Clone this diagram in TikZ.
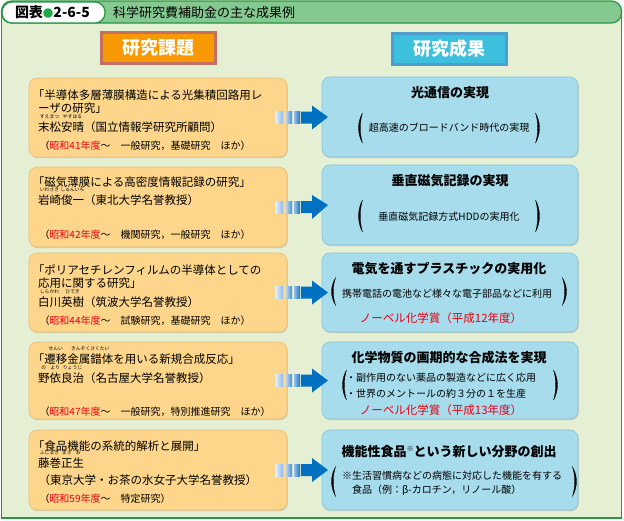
\documentclass[tikz,border=0pt]{standalone}
\usepackage{fontspec}
\setmainfont{Noto Sans CJK JP}
\usetikzlibrary{shadows,calc}
\definecolor{bodybg}{RGB}{229,239,211}
\definecolor{bandgreen}{RGB}{133,201,145}
\definecolor{framegreen}{RGB}{40,150,65}
\definecolor{lfill}{RGB}{253,214,140}
\definecolor{ldraw}{RGB}{238,190,115}
\definecolor{rfill}{RGB}{167,220,236}
\definecolor{rdraw}{RGB}{135,195,218}
\definecolor{horange}{RGB}{247,153,0}
\definecolor{hodraw}{RGB}{196,112,96}
\definecolor{hcyan}{RGB}{60,192,222}
\definecolor{hcdraw}{RGB}{78,158,205}
\definecolor{arrowblue}{RGB}{0,112,192}
\definecolor{jred}{RGB}{230,0,18}
\definecolor{dotgreen}{RGB}{30,170,70}
\definecolor{sa}{RGB}{232,241,250}
\definecolor{sb}{RGB}{140,185,230}
\definecolor{sc}{RGB}{200,221,242}
\definecolor{sd}{RGB}{75,145,212}
\definecolor{se}{RGB}{150,192,234}
\definecolor{sf}{RGB}{25,118,198}
\newsavebox\rbbox
\newcommand\rb[2]{\leavevmode\sbox\rbbox{#1}\rlap{\makebox[\wd\rbbox]{\raisebox{1.08em}[0pt][0pt]{\fontsize{4.8}{5}\selectfont #2}}}\usebox\rbbox}
\newcommand\rd[1]{\textcolor{jred}{#1}}
\newcommand\lpar[3]{\filldraw[parenst] ({#1+4.5},#2) .. controls ({#1-0.8},{#2+0.3*(#3-#2)}) and ({#1-0.8},{#3-0.3*(#3-#2)}) .. ({#1+4.5},#3) .. controls ({#1+1.6},{#3-0.3*(#3-#2)}) and ({#1+1.6},{#2+0.3*(#3-#2)}) .. cycle;}
\newcommand\rpar[3]{\filldraw[parenst] ({#1-4.5},#2) .. controls ({#1+0.8},{#2+0.3*(#3-#2)}) and ({#1+0.8},{#3-0.3*(#3-#2)}) .. ({#1-4.5},#3) .. controls ({#1-1.6},{#3-0.3*(#3-#2)}) and ({#1-1.6},{#2+0.3*(#3-#2)}) .. cycle;}
\newcommand\blockarrow[2]{%
  \begin{scope}[shift={(#1.east)}]
    \shade[left color=sa,right color=sb] (-12,-6) rectangle (-4,6);
    \shade[left color=sc,right color=sd] (-2,-6) rectangle (5,6);
    \shade[left color=se,right color=sf] (7,-6) rectangle (13,6);
  \end{scope}
  \fill[arrowblue] ($(#1.east)+(14,-6)$) -- ($(#1.east)+(25,-6)$) -- ($(#1.east)+(25,-12)$) -- ($(#2.west)+(6,0)$) -- ($(#1.east)+(25,12)$) -- ($(#1.east)+(25,6)$) -- ($(#1.east)+(14,6)$) -- cycle;}
\begin{document}
\begin{tikzpicture}[x=1pt,y=-1pt,
  every node/.style={inner sep=0pt,outer sep=0pt},
  frame/.style={draw=framegreen,line width=1.2pt},
  lboxst/.style={fill=lfill,draw=ldraw,line width=0.6pt,rounded corners=8pt,anchor=north west,minimum width=258pt,
     drop shadow={shadow xshift=0.8pt,shadow yshift=-1.2pt,opacity=0.3}},
  rboxst/.style={fill=rfill,draw=rdraw,line width=0.6pt,rounded corners=8pt,anchor=north west,minimum width=256pt,
     drop shadow={shadow xshift=0.8pt,shadow yshift=-1.2pt,opacity=0.3}},
  lt/.style={anchor=west,font=\fontsize{11.5}{13}\selectfont},
  lb/.style={anchor=west,font=\fontsize{10}{12}\selectfont},
  rt/.style={font=\fontsize{13}{15}\selectfont\bfseries},
  rs/.style={font=\fontsize{10}{12}\selectfont},
  rr/.style={font=\fontsize{11.5}{13}\selectfont,text=jred},
  parenst/.style={fill=black,draw=black,line width=0.3pt},
  hdr/.style={minimum width=114pt,minimum height=31pt,line width=2.2pt,font=\fontsize{18}{20}\selectfont\bfseries,text=white,
     drop shadow={shadow xshift=1pt,shadow yshift=-1pt,opacity=0.25}}]
\useasboundingbox (0,0) rectangle (624,520);
% body and title band
\fill[bodybg] (1.5,12) rectangle (621.5,518);
\draw[frame] (1.5,12) -- (1.5,518) -- (621.5,518) -- (621.5,12);
\draw[frame,fill=bandgreen,rounded corners=10pt] (1.5,1) rectangle (621.5,23);
\node[frame,fill=white,rounded corners=10pt,minimum width=103pt,minimum height=21pt,anchor=north west] (tab) at (2,2) {};
\node[anchor=west,font=\fontsize{14}{16}\selectfont\bfseries] (tabtxt) at (15,12.5) {図表\textcolor{dotgreen}{\fontsize{10.5}{12}\selectfont ●}2-6-5};
\node[anchor=west,font=\fontsize{13}{15}\selectfont] (title) at (113,12.5) {科学研究費補助金の主な成果例};
% headers
\node[hdr,fill=horange,draw=hodraw] (h1) at (158.5,48) {研究課題};
\node[hdr,fill=hcyan,draw=hcdraw] (h2) at (449.5,49) {研究成果};
% left boxes
\node[lboxst,minimum height=79pt] (L1) at (29,78) {};
\node[lboxst,minimum height=80pt] (L2) at (29,167) {};
\node[lboxst,minimum height=79pt] (L3) at (29,253) {};
\node[lboxst,minimum height=77pt] (L4) at (29,342) {};
\node[lboxst,minimum height=80pt] (L5) at (29,430) {};
% right boxes
\node[rboxst,minimum height=80pt] (R1) at (322,77) {};
\node[rboxst,minimum height=80pt] (R2) at (322,165) {};
\node[rboxst,minimum height=79pt] (R3) at (322,253) {};
\node[rboxst,minimum height=77pt] (R4) at (322,342) {};
\node[rboxst,minimum height=80pt] (R5) at (322,430) {};
% arrows
\blockarrow{L1}{R1}
\blockarrow{L2}{R2}
\blockarrow{L3}{R3}
\blockarrow{L4}{R4}
\blockarrow{L5}{R5}
% left texts
\node[lt] (l1a) at (38,95) {\kern-0.45em「半導体多層薄膜構造による光集積回路用レ};
\node[lt] (l1b) at (38,108) {ーザの研究」};
\node[lt] (l1c) at (38,127) {\rb{末松}{すえまつ}\rb{安晴}{やすはる}（国立情報学研究所顧問）};
\node[lb] (l1d) at (45,146) {\kern-0.55em（\rd{昭和41年度}～　一般研究，基礎研究　ほか）};
\node[lt] (l2a) at (38,182) {\kern-0.45em「磁気薄膜による高密度情報記録の研究」};
\node[lt] (l2c) at (38,200) {\rb{岩崎}{いわさき}\rb{俊一}{しゅんいち}（東北大学名誉教授）};
\node[lb] (l2d) at (45,235) {\kern-0.55em（\rd{昭和42年度}～　機関研究，一般研究　ほか）};
\node[lt] (l3a) at (38,270) {\kern-0.45em「ポリアセチレンフィルムの半導体としての};
\node[lt] (l3b) at (38,283) {応用に関する研究」};
\node[lt] (l3c) at (38,302) {\rb{白川}{しらかわ}\rb{英樹}{ひでき}（筑波大学名誉教授）};
\node[lb] (l3d) at (45,321) {\kern-0.55em（\rd{昭和44年度}～　試験研究，基礎研究　ほか）};
\node[lt] (l4a) at (38,359) {\kern-0.45em「\rb{遷移}{せんい}\rb{金属錯体}{きんぞくさくたい}を用いる新規合成反応」};
\node[lt] (l4c) at (38,378) {\rb{野}{の}\rb{依}{より}\rb{良治}{りょうじ}（名古屋大学名誉教授）};
\node[lb] (l4d) at (45,412) {\kern-0.55em（\rd{昭和47年度}～　一般研究，特別推進研究　ほか）};
\node[lt] (l5a) at (38,446) {\kern-0.45em「食品機能の系統的解析と展開」};
\node[lt] (l5c) at (38,463) {\rb{藤巻}{ふじまき}\rb{正}{まさ}\rb{生}{お}};
\node[lt] (l5e) at (45,480) {\kern-0.55em（東京大学・お茶の水女子大学名誉教授）};
\node[lb] (l5d) at (45,499) {\kern-0.55em（\rd{昭和59年度}～　特定研究）};
% right texts
\node[rt] (r1a) at (450,93) {光通信の実現};
\node[rs] (r1b) at (449,128) {超高速のブロードバンド時代の実現};
\lpar{358}{113}{143}\rpar{540}{113}{143}
\node[rt] (r2a) at (450,181) {垂直磁気記録の実現};
\node[rs] (r2b) at (449,217) {垂直磁気記録方式HDDの実用化};
\lpar{358}{200}{232}\rpar{540}{200}{232}
\node[rt] (r3a) at (449,269) {電気を通すプラスチックの実用化};
\node[rs] (r3b) at (447,294) {携帯電話の電池など様々な電子部品などに利用};
\node[rr] (r3c) at (441,318) {ノーベル化学賞（平成12年度）};
\lpar{331}{278}{305}\rpar{567}{278}{305}
\node[rt] (r4a) at (449,358) {化学物質の画期的な合成法を実現};
\node[rs,anchor=west] (r4b) at (346,378) {・副作用のない薬品の製造などに広く応用};
\node[rs,anchor=west] (r4c) at (346,394) {・世界のメントールの約３分の１を生産};
\node[rr] (r4d) at (441,410) {ノーベル化学賞（平成13年度）};
\lpar{342}{370}{400}\rpar{558}{370}{400}
\node[rt] (r5a) at (449,452) {機能性食品\raisebox{0.45em}{\fontsize{7}{7}\selectfont ※}という新しい分野の創出};
\node[rs,anchor=west] (r5b) at (342,476) {※生活習慣病などの病態に対応した機能を有する};
\node[rs,anchor=west] (r5c) at (352,490) {食品（例：\textit{β}-カロチン，リノール酸）};
\lpar{331}{467}{496}\rpar{577}{467}{496}
\end{tikzpicture}
\end{document}
